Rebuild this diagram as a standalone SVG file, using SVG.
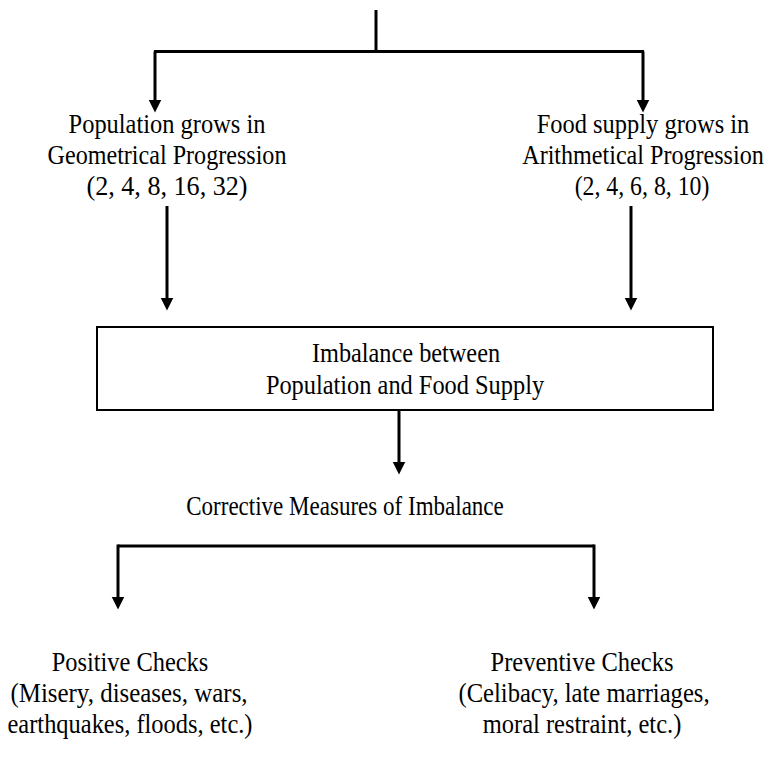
<svg xmlns="http://www.w3.org/2000/svg" width="769" height="764" viewBox="0 0 769 764">
<style>
  text { font-family: "Liberation Serif", "Times New Roman", serif; font-size: 28px; fill: #000; text-anchor: middle; }
  .c { fill: none; stroke: #000; stroke-width: 3; }
  .box { fill: #fff; stroke: #000; stroke-width: 2; }
</style>
<defs>
  <marker id="ah" markerUnits="userSpaceOnUse" markerWidth="14" markerHeight="14" refX="0.5" refY="6.5" orient="auto">
    <path d="M0,0 L13,6.5 L0,13 z" fill="#000"/>
  </marker>
</defs>
<g id="connectors">
  <path class="c" d="M376,10 V51.5"/>
  <path class="c" d="M154,51.5 H644"/>
  <path class="c" d="M155,51.5 V100" marker-end="url(#ah)"/>
  <path class="c" d="M643,51.5 V100" marker-end="url(#ah)"/>
  <path class="c" d="M167,206 V298" marker-end="url(#ah)"/>
  <path class="c" d="M631,206 V298" marker-end="url(#ah)"/>
  <path class="c" d="M399,411 V462" marker-end="url(#ah)"/>
  <path class="c" d="M118,546 H594"/>
  <path class="c" d="M118,544.5 V597" marker-end="url(#ah)"/>
  <path class="c" d="M594,544.5 V597" marker-end="url(#ah)"/>
</g>
<g id="population">
  <text transform="translate(167,133) scale(0.875,1)" textLength="225" lengthAdjust="spacingAndGlyphs">Population grows in</text>
  <text transform="translate(167,164) scale(0.875,1)" textLength="273" lengthAdjust="spacingAndGlyphs">Geometrical Progression</text>
  <text transform="translate(167,195) scale(0.875,1)" textLength="184" lengthAdjust="spacingAndGlyphs">(2,  4,  8, 16, 32)</text>
</g>
<g id="food">
  <text transform="translate(643,133) scale(0.875,1)" textLength="243" lengthAdjust="spacingAndGlyphs">Food supply grows in</text>
  <text transform="translate(643,164) scale(0.875,1)" textLength="276" lengthAdjust="spacingAndGlyphs">Arithmetical Progression</text>
  <text transform="translate(642,195) scale(0.875,1)" textLength="154" lengthAdjust="spacingAndGlyphs">(2, 4, 6, 8, 10)</text>
</g>
<g id="imbalance">
  <rect class="box" x="97" y="327" width="616" height="83"/>
  <text transform="translate(406,362) scale(0.875,1)" textLength="215" lengthAdjust="spacingAndGlyphs">Imbalance between</text>
  <text transform="translate(405,394) scale(0.875,1)" textLength="318" lengthAdjust="spacingAndGlyphs">Population and Food Supply</text>
</g>
<g id="corrective">
  <text transform="translate(345,515) scale(0.875,1)" textLength="363" lengthAdjust="spacingAndGlyphs">Corrective Measures of Imbalance</text>
</g>
<g id="positive">
  <text transform="translate(130,671) scale(0.875,1)" textLength="179" lengthAdjust="spacingAndGlyphs">Positive Checks</text>
  <text transform="translate(129,702) scale(0.875,1)" textLength="271" lengthAdjust="spacingAndGlyphs">(Misery, diseases, wars,</text>
  <text transform="translate(130,733) scale(0.875,1)" textLength="280" lengthAdjust="spacingAndGlyphs">earthquakes, floods, etc.)</text>
</g>
<g id="preventive">
  <text transform="translate(582,671) scale(0.875,1)" textLength="209" lengthAdjust="spacingAndGlyphs">Preventive Checks</text>
  <text transform="translate(584,702) scale(0.875,1)" textLength="287" lengthAdjust="spacingAndGlyphs">(Celibacy, late marriages,</text>
  <text transform="translate(582,733) scale(0.875,1)" textLength="227" lengthAdjust="spacingAndGlyphs">moral restraint, etc.)</text>
</g>
</svg>
